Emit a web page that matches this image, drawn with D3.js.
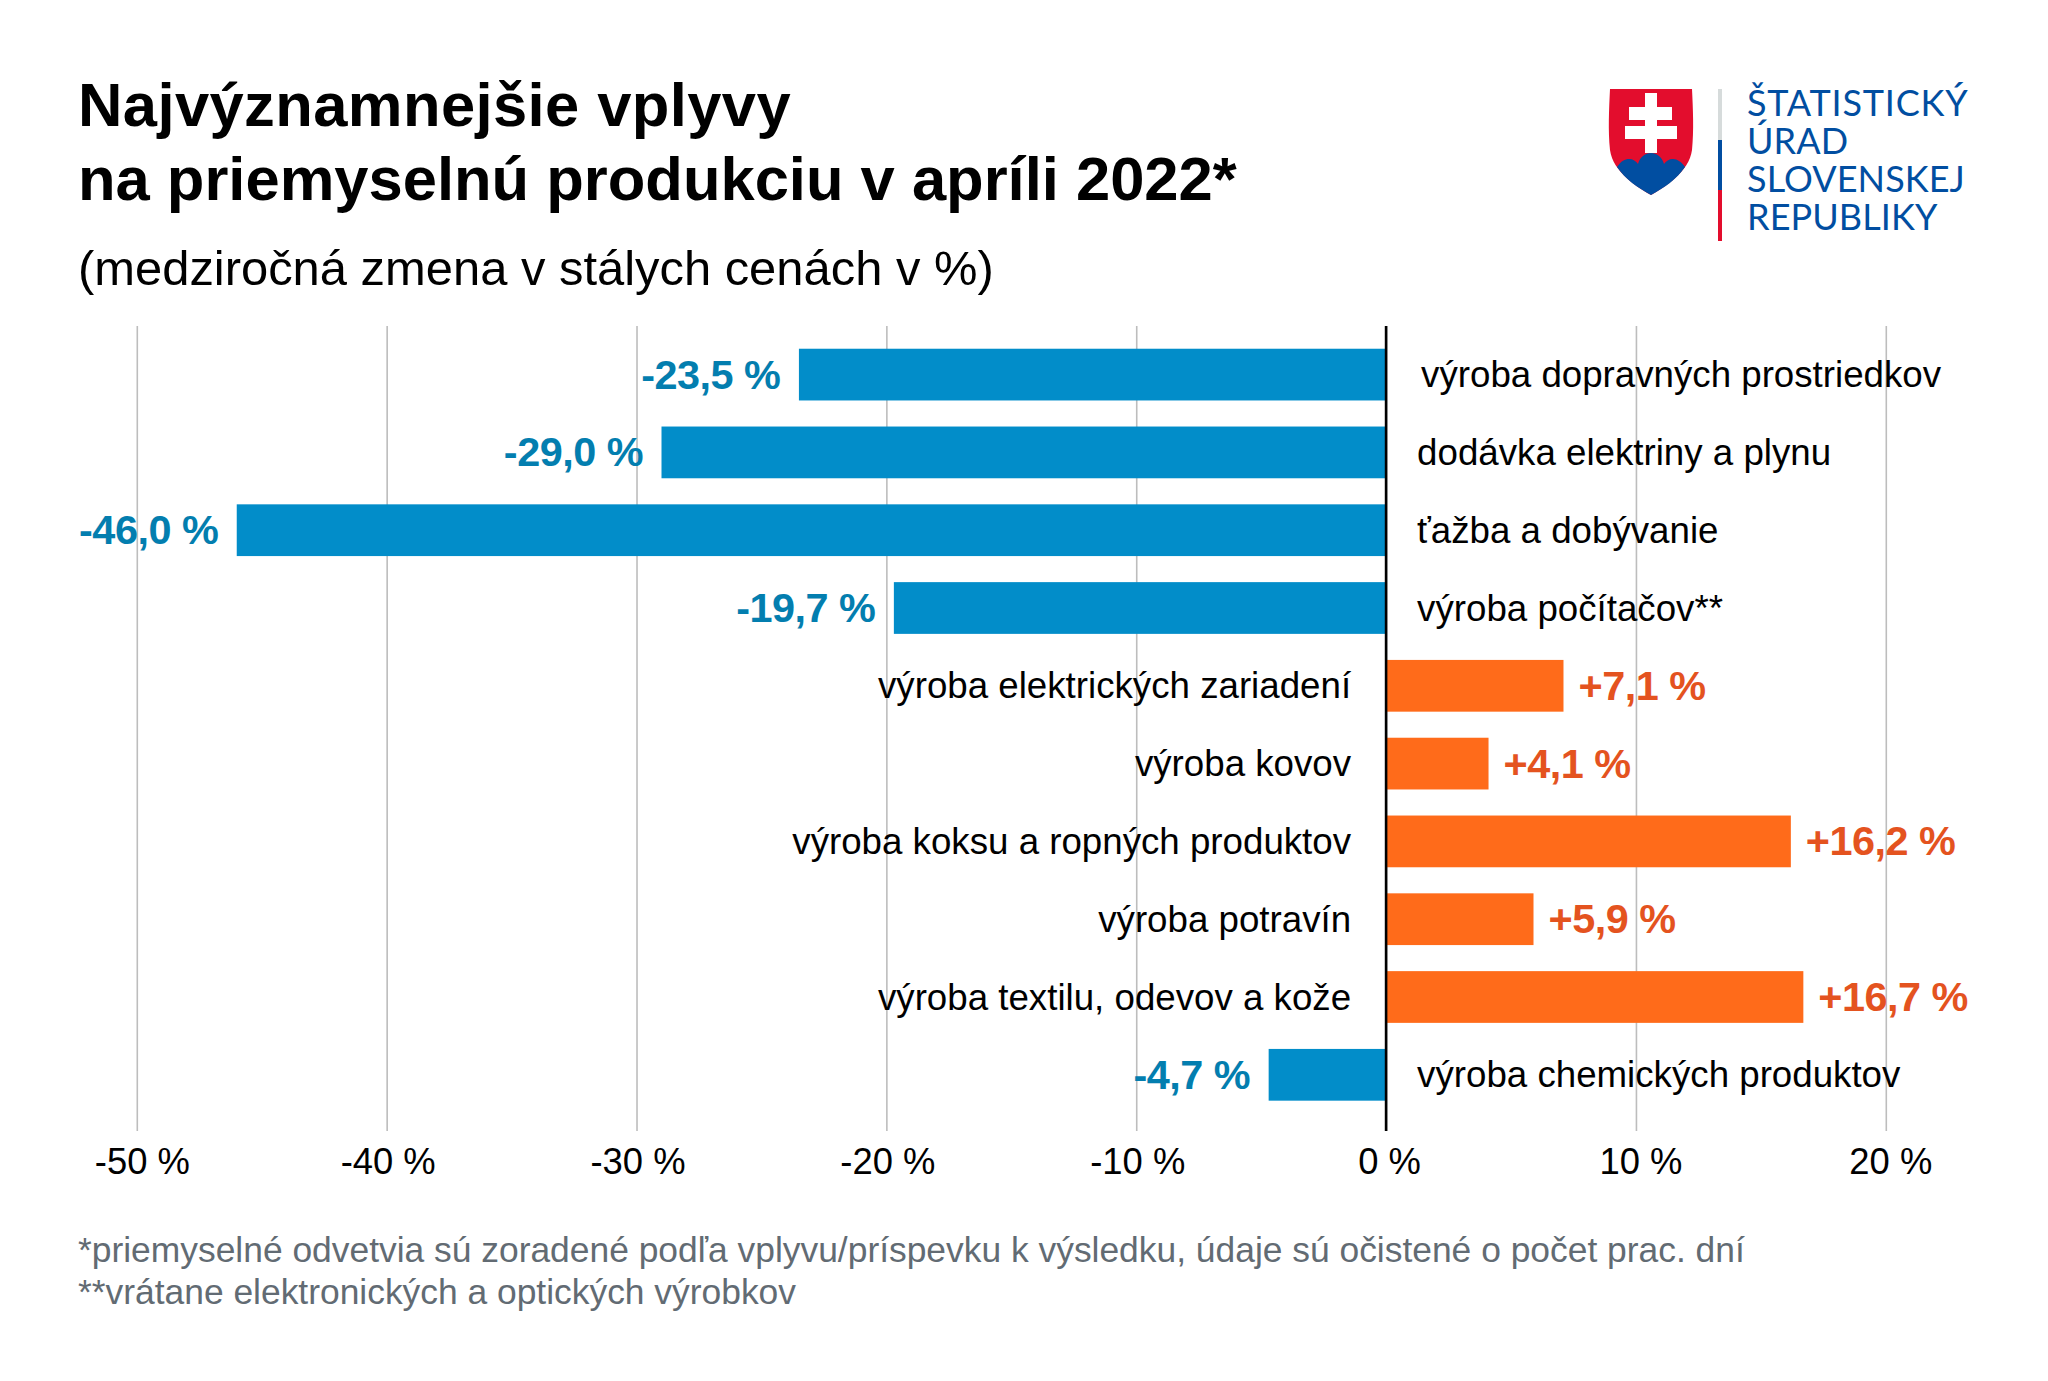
<!DOCTYPE html>
<html lang="sk"><head><meta charset="utf-8">
<script src="https://cdn.jsdelivr.net/npm/d3@7/dist/d3.min.js"></script>
<style>html,body{margin:0;background:#fff}svg{display:block}text{font-family:"Liberation Sans",Arial,sans-serif}</style>
</head><body><svg id="c" width="2048" height="1381"></svg>
<script>
const categories=["výroba dopravných prostriedkov","dodávka elektriny a plynu","ťažba a dobývanie","výroba počítačov**","výroba elektrických zariadení","výroba kovov","výroba koksu a ropných produktov","výroba potravín","výroba textilu, odevov a kože","výroba chemických produktov"];
const values=[-23.5,-29.0,-46.0,-19.7,7.1,4.1,16.2,5.9,16.7,-4.7];
const tickValues=[-50,-40,-30,-20,-10,0,10,20];
const titleLines=["Najvýznamnejšie vplyvy","na priemyselnú produkciu v apríli 2022*"];
const subtitle="(medziročná zmena v stálych cenách v %)";
const footnotes=["*priemyselné odvetvia sú zoradené podľa vplyvu/príspevku k výsledku, údaje sú očistené o počet prac. dní","**vrátane elektronických a optických výrobkov"];
const logoLines=["ŠTATISTICKÝ","ÚRAD","SLOVENSKEJ","REPUBLIKY"];

const svg=d3.select("#c");
const x=d3.scaleLinear().domain([-50,20]).range([136.8,1885.8]);
const y=d3.scaleBand().domain(categories).range([335.7,1113.7]).paddingInner(0.335).paddingOuter(0.1675);
const fmt=v=>(v>0?"+":"")+v.toFixed(1).replace(".",",")+" %";

svg.selectAll(".t").data(titleLines).join("text").attr("x",78).attr("y",(d,i)=>126+i*74)
  .attr("font-size",61.5).attr("font-weight",700).attr("fill","#000")
  .attr("letter-spacing",(d,i)=>i==0?0.4:0).text(d=>d);
svg.append("text").attr("x",78).attr("y",285).attr("font-size",48.9).attr("fill","#000").text(subtitle);

const axis=d3.axisBottom(x).tickValues(tickValues).tickSize(-805).tickPadding(0).tickFormat(d=>d+" %");
const ga=svg.append("g").attr("transform","translate(0,1131)").call(axis);
ga.select(".domain").remove();
ga.selectAll("line").attr("stroke","#bdbdbd").attr("stroke-width",1.6);
ga.selectAll("text").attr("font-size",36.4).attr("fill","#000").attr("y",0).attr("dy",43)
  .attr("dx",d=>d===-50?5:d<0?1:d===0?3:4.5);

svg.selectAll(".bar").data(values).join("rect")
  .attr("x",d=>x(Math.min(0,d))).attr("width",d=>Math.abs(x(d)-x(0)))
  .attr("y",(d,i)=>y(categories[i])).attr("height",y.bandwidth())
  .attr("fill",d=>d<0?"#028dc9":"#ff6b1a");

svg.append("line").attr("x1",x(0)).attr("x2",x(0)).attr("y1",326).attr("y2",1131).attr("stroke","#000").attr("stroke-width",2.6);

svg.selectAll(".val").data(values).join("text")
  .attr("x",d=>x(d)+(d<0?-18.5:15)).attr("y",(d,i)=>y(categories[i])+y.bandwidth()/2+14)
  .attr("text-anchor",d=>d<0?"end":"start").attr("font-size",41.4).attr("font-weight",700)
  .attr("letter-spacing",-0.5)
  .attr("fill",d=>d<0?"#037eaf":"#e4531f").text(fmt);

svg.selectAll(".cat").data(categories).join("text")
  .attr("x",(d,i)=>x(0)+(values[i]<0?(i==0?35:31):-35)).attr("y",d=>y(d)+y.bandwidth()/2+12.5)
  .attr("text-anchor",(d,i)=>values[i]<0?"start":"end").attr("font-size",36.7).attr("fill","#000").text(d=>d);

svg.selectAll(".fn").data(footnotes).join("text").attr("x",78).attr("y",(d,i)=>1262+i*42)
  .attr("font-size",35.4).attr("fill","#626b73").text(d=>d);

// logo
const logo=svg.append("g");
logo.append("path").attr("d","M1610 89H1692C1693 110 1694 130 1692 150C1689 172 1665 187 1651 195C1637 187 1613 172 1610 150C1608 130 1609 110 1610 89Z").attr("fill","#e30d2d");
logo.append("path").attr("d","M1617 167C1621 161 1625 159 1629 159C1633 159 1636 161 1638 164C1640 157 1645 153 1651 153C1657 153 1662 157 1664 164C1666 161 1669 159 1673 159C1677 159 1682 162 1685 167C1677 179 1664 188 1651 195C1638 188 1625 179 1617 167Z").attr("fill","#014ea1");
logo.append("path").attr("d","M1645 93H1657V107H1672V120H1657V126H1677V139H1657V153H1645V139H1625V126H1645V120H1629V107H1645Z").attr("fill","#fff");
[["#d6dbdb",89,140],["#014ea1",140,190],["#e30d2d",190,241]].forEach(([c,a,b])=>
  logo.append("rect").attr("x",1718).attr("y",a).attr("width",4).attr("height",b-a).attr("fill",c));
logo.selectAll(".l").data(logoLines).join("text").attr("x",1747).attr("y",(d,i)=>115.5+i*38)
  .attr("font-size",36).attr("fill","#014ea1").attr("letter-spacing",(d,i)=>i==0?0.8:0.1)
  .style("font-family","Lato").text(d=>d);
</script></body></html>
